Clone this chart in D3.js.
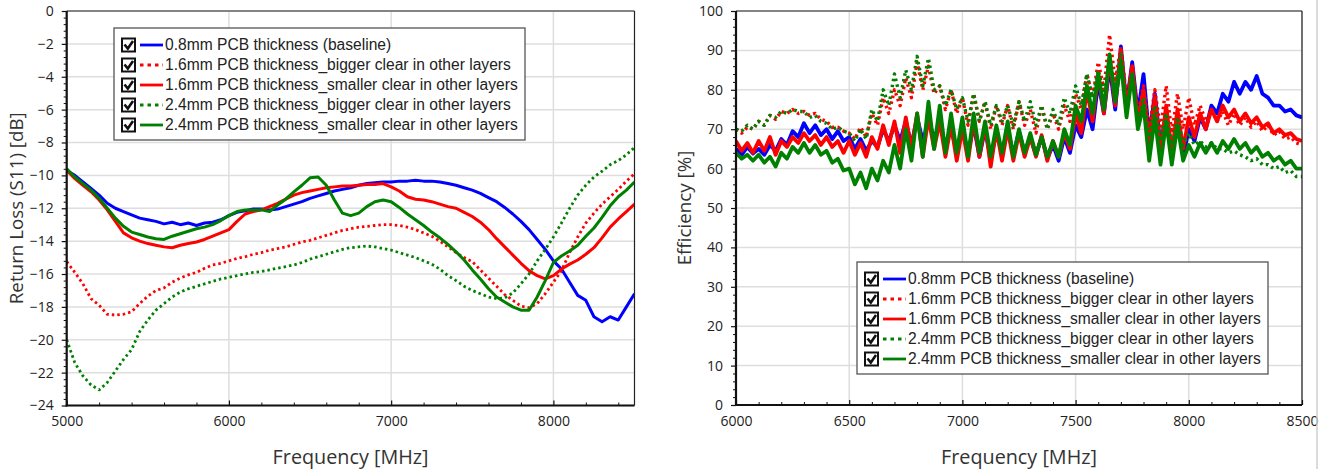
<!DOCTYPE html>
<html><head><meta charset="utf-8">
<script src="https://cdn.jsdelivr.net/npm/d3@7"></script>
<style>body{margin:0;background:#fff;} svg{display:block}</style>
</head><body><svg id="c" width="1326" height="469"></svg>
<script>
const seriesNames = [
  "0.8mm PCB thickness (baseline)",
  "1.6mm PCB thickness_bigger clear in other layers",
  "1.6mm PCB thickness_smaller clear in other layers",
  "2.4mm PCB thickness_bigger clear in other layers",
  "2.4mm PCB thickness_smaller clear in other layers"
];
const seriesColors = ["#0000ff", "#ff0000", "#ff0000", "#008000", "#008000"];
const seriesDotted = [false, true, false, true, false];

// Return loss chart (S11, dB), 5000..8500 MHz every 50 MHz
const s11Freq = d3.range(5000, 8501, 50);
const s11Baseline = [-9.7,-10.0,-10.4,-10.8,-11.2,-11.7,-12.0,-12.2,-12.4,-12.6,-12.7,-12.8,-12.95,-12.85,-13.0,-12.9,-13.05,-12.9,-12.85,-12.7,
  -12.45,-12.25,-12.15,-12.05,-12.05,-12.1,-12.05,-11.9,-11.75,-11.6,-11.4,-11.25,-11.1,-10.95,-10.85,-10.75,-10.6,-10.5,-10.45,-10.4,
  -10.4,-10.35,-10.35,-10.3,-10.35,-10.35,-10.4,-10.5,-10.6,-10.75,-10.9,-11.1,-11.35,-11.6,-11.95,-12.35,-12.8,-13.3,-13.9,-14.5,
  -15.2,-15.7,-16.5,-17.3,-17.6,-18.6,-18.9,-18.6,-18.8,-18.0,-17.2];
const s11Bigger16 = [-15.25,-15.9,-16.6,-17.5,-17.9,-18.45,-18.5,-18.45,-18.3,-17.8,-17.35,-17.0,-16.85,-16.5,-16.25,-16.05,-15.9,-15.65,-15.45,-15.35,
  -15.2,-15.05,-14.95,-14.8,-14.7,-14.55,-14.45,-14.35,-14.2,-14.05,-13.95,-13.8,-13.65,-13.5,-13.35,-13.25,-13.15,-13.1,-13.05,-13.0,
  -13.0,-13.05,-13.15,-13.3,-13.5,-13.7,-14.0,-14.35,-14.7,-15.0,-15.25,-15.75,-16.25,-16.75,-17.25,-17.6,-17.95,-18.05,-17.8,-17.2,
  -16.5,-15.8,-14.7,-13.75,-12.9,-12.3,-11.75,-11.3,-10.85,-10.35,-9.9];
const s11Smaller16 = [-9.7,-10.2,-10.6,-11.0,-11.5,-12.1,-12.8,-13.5,-13.8,-14.0,-14.15,-14.25,-14.35,-14.4,-14.25,-14.15,-14.05,-13.9,-13.7,-13.5,
  -13.3,-12.8,-12.35,-12.2,-12.1,-11.9,-11.7,-11.45,-11.2,-11.05,-10.95,-10.85,-10.75,-10.7,-10.65,-10.65,-10.6,-10.55,-10.55,-10.5,
  -10.7,-10.95,-11.3,-11.45,-11.5,-11.6,-11.75,-11.9,-12.0,-12.25,-12.5,-12.85,-13.3,-13.85,-14.35,-14.85,-15.35,-15.8,-16.1,-16.3,
  -16.1,-15.7,-15.4,-15.15,-14.8,-14.4,-13.8,-13.15,-12.65,-12.2,-11.75];
const s11Bigger24 = [-20.0,-21.4,-22.2,-22.75,-23.05,-22.6,-21.9,-21.2,-20.6,-19.5,-18.8,-18.2,-17.8,-17.4,-17.1,-16.9,-16.75,-16.6,-16.45,-16.3,
  -16.2,-16.1,-16.0,-15.9,-15.85,-15.75,-15.65,-15.55,-15.45,-15.3,-15.1,-14.95,-14.8,-14.65,-14.5,-14.4,-14.35,-14.3,-14.35,-14.45,
  -14.55,-14.7,-14.85,-15.0,-15.2,-15.4,-15.7,-16.1,-16.4,-16.75,-17.0,-17.2,-17.4,-17.5,-17.45,-17.15,-16.6,-16.0,-15.2,-14.5,
  -13.75,-12.9,-12.0,-11.2,-10.6,-10.1,-9.75,-9.35,-9.1,-8.75,-8.3];
const s11Smaller24 = [-9.6,-10.1,-10.5,-10.9,-11.4,-12.0,-12.6,-13.1,-13.45,-13.6,-13.75,-13.85,-13.9,-13.7,-13.55,-13.4,-13.25,-13.15,-13.0,-12.75,
  -12.45,-12.2,-12.1,-12.1,-12.1,-12.2,-11.8,-11.45,-11.0,-10.6,-10.15,-10.1,-10.6,-11.5,-12.3,-12.45,-12.3,-11.9,-11.6,-11.5,
  -11.6,-11.95,-12.35,-12.7,-13.05,-13.45,-13.8,-14.2,-14.65,-15.15,-15.75,-16.3,-16.9,-17.4,-17.7,-18.0,-18.2,-18.2,-17.4,-16.4,
  -15.3,-14.9,-14.6,-14.25,-13.7,-13.2,-12.55,-11.85,-11.3,-10.9,-10.4];

// Efficiency chart (%), 6000..8500 MHz every 25 MHz
const effFreq = d3.range(6000, 8501, 25);
const effBaseline = [65,63.5,65.5,63.8, 65,63.5,66,64.5, 67.5,66,69.5,68, 71.5,69,71,68.5, 70,67.5,69.5,67,
  68,65,67.5,64.5, 67,65.5,70,67, 71,67,72,66, 73,67,72,68, 71,66,70,64.5,
  70,64,71,63, 70,62.5,69,64, 70,63.5,69.5,64, 68,63.5,68,62.5, 66,62,68,64,
  71,68,75,70, 82,74,86,75, 91,76,87,74, 84,68,79,66, 74,64,73,63,
  70,67,73,70, 76,74,79,77, 82,79,82,80, 83.5,79,78,76, 76,74.5,75,73.5, 73];
const effBigger16 = [70,69,70.5,70, 72,71,73.5,72.5, 74.5,74,75,74, 74.5,73.5,74,72.5, 72,70.5,70.5,69.5,
  69,67.5,70.5,68, 74,71,78,74, 80,76,83,78, 87,80,86,79, 81,75,80,74,
  78,71,79,72, 77,70,76,71, 76,70,77,71, 75,69,76,70, 74,70,76,72,
  79,75,84,78, 87,80,94,82, 91,78,86,74, 81,70,80,70, 81,69,79,70,
  78,71,76,72, 75,72,74.5,71, 74,71,73,70.5, 72,69.5,71,68.5, 69.5,67.5,68,66.5, 66];
const effSmaller16 = [67,64.5,66.5,64, 67,64.5,68,63.5, 67,65.5,68,66.5, 69,67,68.5,66, 68,65.5,67,64,
  67,63.5,66.5,63, 68,65,71,66, 72,64,73,65, 74,63,73,65, 72,63,71,62,
  70,62,72,63, 71,60.5,70,62, 70,62,69,63, 68,63,68.5,62, 67,63,69,65,
  74,69,80,72, 84,74,88,76, 90,75,86,72, 80,66,78,64, 76,64,75,65,
  73,68,74,70, 75,72,76,73, 75,72,74,71.5, 73,70.5,71.5,69, 70,68.5,69,67.5, 67];
const effBigger24 = [70,69.5,71,70, 72,71,73.5,73, 74.5,74,75,74.5, 74.5,73,73.5,72, 71.5,70,70.5,69.5,
  69,67,70,67.5, 75,72,80,76, 84,78,85,80, 88.5,81,88,80, 81,76,80,75,
  78,72,79,72, 77,71,76,72, 76,71,77,72, 77,71,76,70, 75,71,78,74,
  81,76,84,78, 85,79,88,80, 89,76,84,72, 78,68,76,67, 74,66,73,66,
  69,66,67,65.5, 66.5,65,65,64, 64.5,63.5,63,62, 62.5,61,61,60, 60.5,59,59.5,58, 58];
const effSmaller24 = [64,62.5,63.5,62, 63.5,61.5,63,60.5, 64,62.5,65.5,64, 66.5,64,66,63.5, 64.5,61.5,62.5,59.5,
  60,56,59,55, 60,57,62,59, 66,60,70,62, 74,63,77,65, 76,64,74,64,
  73,63,74,64, 72,63,71,64, 72,63,70,64, 69,63.5,68,63, 67,63,70,66,
  76,72,81,74, 84,75,89,77, 87,73,84,70, 76,62,73,61, 72,61,71,62,
  66,63,66.5,64, 66.5,64,67,65, 67.5,65,66.5,64, 65.5,63,64,62, 63,61,62,60, 60];

const s11YTicks = [0,-2,-4,-6,-8,-10,-12,-14,-16,-18,-20,-22,-24];
const s11XTicks = [5000,6000,7000,8000];
const effYTicks = [0,10,20,30,40,50,60,70,80,90,100];
const effXTicks = [6000,6500,7000,7500,8000,8500];

const svg = d3.select("#c");
const TICK_FONT = "'Open Sans', 'Noto Sans', sans-serif";

function drawPanel(cfg, id) {
  const x = d3.scaleLinear().domain(cfg.xDomain).range([cfg.left, cfg.right]);
  const y = d3.scaleLinear().domain(cfg.yDomain).range([cfg.bottom, cfg.top]);
  const g = svg.append("g");

  // grid
  g.append("g").selectAll("line").data(cfg.yTicks).join("line")
    .attr("x1", cfg.left).attr("x2", cfg.right)
    .attr("y1", d => y(d)).attr("y2", d => y(d))
    .attr("stroke", "#dedede").attr("stroke-width", 1.5);
  g.append("g").selectAll("line").data(cfg.xTicks).join("line")
    .attr("y1", cfg.top).attr("y2", cfg.bottom)
    .attr("x1", d => x(d)).attr("x2", d => x(d))
    .attr("stroke", "#dedede").attr("stroke-width", 1.5);

  // clip
  svg.append("clipPath").attr("id", "clip" + id).append("rect")
    .attr("x", cfg.left).attr("y", cfg.top)
    .attr("width", cfg.right - cfg.left).attr("height", cfg.bottom - cfg.top);

  const line = d3.line().x(d => x(d[0])).y(d => y(d[1]));
  const lg = g.append("g").attr("clip-path", `url(#clip${id})`);
  cfg.series.forEach((vals, i) => {
    const pts = cfg.freq.map((f, k) => [f, vals[k]]);
    lg.append("path").datum(pts)
      .attr("d", line)
      .attr("fill", "none")
      .attr("stroke", seriesColors[i])
      .attr("stroke-width", seriesDotted[i] ? cfg.dotW : cfg.solidW)
      .attr("stroke-linejoin", "round")
      .attr("stroke-dasharray", seriesDotted[i] ? cfg.dash : null);
  });

  // frame top/right
  g.append("line").attr("x1", cfg.left).attr("x2", cfg.right).attr("y1", cfg.top).attr("y2", cfg.top)
    .attr("stroke", "#222").attr("stroke-width", 1.2);
  g.append("line").attr("x1", cfg.right).attr("x2", cfg.right).attr("y1", cfg.top).attr("y2", cfg.bottom)
    .attr("stroke", "#222").attr("stroke-width", 1.2);

  // y axis major
  const ya = g.append("g").attr("transform", `translate(${cfg.left},0)`)
    .call(d3.axisLeft(y).tickValues(cfg.yTicks).tickSize(5).tickPadding(8).tickFormat(d3.format("d")));
  ya.select(".domain").remove();
  ya.selectAll("line").attr("stroke", "#111").attr("stroke-width", 1.2);
  ya.selectAll("text").attr("font-family", TICK_FONT).attr("font-size", 14).attr("fill", "#222");
  // y minor
  const ym = g.append("g").attr("transform", `translate(${cfg.left},0)`)
    .call(d3.axisLeft(y).tickValues(cfg.yMinor).tickSize(3).tickFormat(""));
  ym.select(".domain").remove();
  ym.selectAll("line").attr("stroke", "#111").attr("stroke-width", 1);

  // x axis major (ticks inside)
  const xa = g.append("g").attr("transform", `translate(0,${cfg.bottom})`)
    .call(d3.axisBottom(x).tickValues(cfg.xTicks).tickSize(-5).tickPadding(11).tickFormat(d3.format("d")));
  xa.select(".domain").remove();
  xa.selectAll("line").attr("stroke", "#111").attr("stroke-width", 1.2);
  xa.selectAll("text").attr("font-family", TICK_FONT).attr("font-size", 14).attr("fill", "#222");
  const xm = g.append("g").attr("transform", `translate(0,${cfg.bottom})`)
    .call(d3.axisBottom(x).tickValues(cfg.xMinor).tickSize(-3).tickFormat(""));
  xm.select(".domain").remove();
  xm.selectAll("line").attr("stroke", "#111").attr("stroke-width", 1);

  // axis lines (thick)
  g.append("line").attr("x1", cfg.left).attr("x2", cfg.left).attr("y1", cfg.top).attr("y2", cfg.bottom + 1)
    .attr("stroke", "#111").attr("stroke-width", 2.2);
  g.append("line").attr("x1", cfg.left - 1).attr("x2", cfg.right).attr("y1", cfg.bottom).attr("y2", cfg.bottom)
    .attr("stroke", "#111").attr("stroke-width", 2.2);

  // titles
  g.append("text").attr("x", (cfg.left + cfg.right) / 2).attr("y", 464)
    .attr("text-anchor", "middle").attr("font-family", TICK_FONT).attr("font-size", 19.8).attr("fill", "#333")
    .text("Frequency [MHz]");
  g.append("text").attr("transform", `translate(${cfg.yTitleX},${(cfg.top + cfg.bottom) / 2}) rotate(-90)`)
    .attr("text-anchor", "middle").attr("font-family", TICK_FONT).attr("font-size", 18.8).attr("fill", "#333")
    .text(cfg.yTitle);

  // legend
  const L = cfg.legend;
  const lgd = g.append("g");
  lgd.append("rect").attr("x", L.x).attr("y", L.y).attr("width", L.w).attr("height", L.h)
    .attr("fill", "#fff").attr("stroke", "#555").attr("stroke-width", 1.3);
  seriesNames.forEach((name, i) => {
    const cy = L.y + 17 + i * 20;
    const bx = L.x + 7;
    lgd.append("rect").attr("x", bx + 1).attr("y", cy - 6.5).attr("width", 13).attr("height", 13)
      .attr("fill", "#fff").attr("stroke", "#111").attr("stroke-width", 2);
    lgd.append("path").attr("d", `M${bx + 3.5},${cy - 0.5} L${bx + 6.8},${cy + 3.5} L${bx + 12},${cy - 4}`)
      .attr("fill", "none").attr("stroke", "#111").attr("stroke-width", 2.6);
    lgd.append("line").attr("x1", L.x + 26).attr("x2", L.x + 49).attr("y1", cy).attr("y2", cy)
      .attr("stroke", seriesColors[i]).attr("stroke-width", 2.8)
      .attr("stroke-dasharray", seriesDotted[i] ? "3.5,4" : null);
    lgd.append("text").attr("x", L.x + 51).attr("y", cy + 5.4)
      .attr("font-family", "'Liberation Sans', Arial, sans-serif").attr("font-size", 15.6).attr("fill", "#222")
      .text(name);
  });
}

drawPanel({
  left: 66.7, right: 634.5, top: 11, bottom: 405.5,
  xDomain: [5000, 8500], yDomain: [-24, 0],
  xTicks: s11XTicks, yTicks: s11YTicks,
  xMinor: d3.range(5200, 8500, 200).filter(v => v % 1000 !== 0),
  yMinor: d3.range(-24, 0.01, 0.4).filter(v => Math.abs(v / 2 - Math.round(v / 2)) > 0.01),
  freq: s11Freq,
  series: [s11Baseline, s11Bigger16, s11Smaller16, s11Bigger24, s11Smaller24],
  solidW: 3, dotW: 2.8, dash: "2.5,3",
  yTitle: "Return Loss (S11) [dB]", yTitleX: 23,
  legend: {x: 114, y: 28, w: 411, h: 112}
}, "a");

drawPanel({
  left: 736, right: 1302, top: 11, bottom: 405,
  xDomain: [6000, 8500], yDomain: [0, 100],
  xTicks: effXTicks, yTicks: effYTicks,
  xMinor: d3.range(6100, 8500, 100).filter(v => v % 500 !== 0),
  yMinor: d3.range(2, 100, 2).filter(v => v % 10 !== 0),
  freq: effFreq,
  series: [effBaseline, effBigger16, effSmaller16, effBigger24, effSmaller24],
  solidW: 3.8, dotW: 3.4, dash: "2.5,3.5",
  yTitle: "Efficiency [%]", yTitleX: 691,
  legend: {x: 857, y: 262, w: 411, h: 112}
}, "b");

// right-side panel separator
svg.append("line").attr("x1", 1317).attr("x2", 1317).attr("y1", 0).attr("y2", 469)
  .attr("stroke", "#cfcfcf").attr("stroke-width", 1.5);
</script></body></html>
